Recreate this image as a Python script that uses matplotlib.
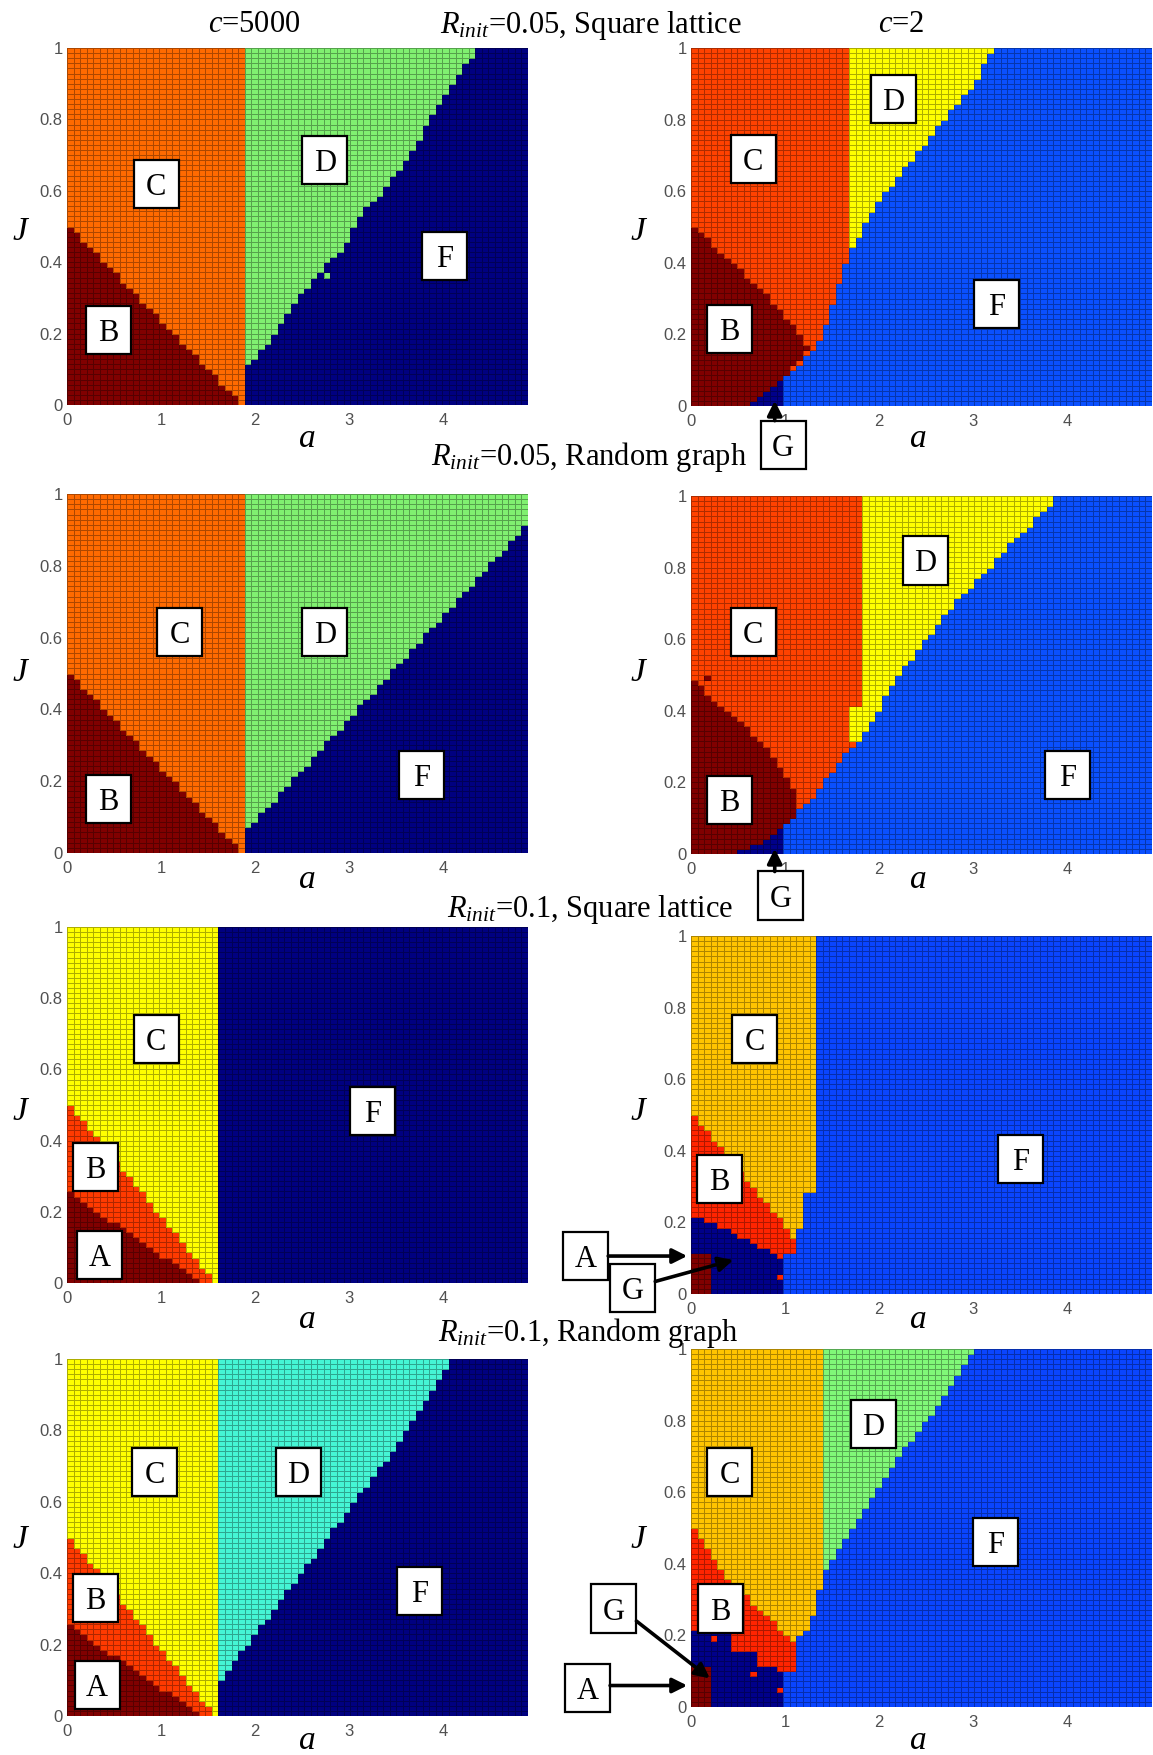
import matplotlib.pyplot as plt
import numpy as np
from matplotlib.path import Path
from matplotlib.colors import ListedColormap
from matplotlib.patches import Rectangle

plt.rcParams['font.family'] = 'Liberation Serif'
plt.rcParams['mathtext.fontset'] = 'custom'
plt.rcParams['mathtext.rm'] = 'Liberation Serif'
plt.rcParams['mathtext.it'] = 'Liberation Serif:italic'

W, H = 1153, 1755

# sweep grid: 70 x 70 cells, a = 0..4.9, J = 0..1
a_edges = np.linspace(0, 4.9, 71)
J_edges = np.linspace(0, 1, 71)

# ---- phase regions as (a, J) outlines ----
# R_init=0.05, square lattice, c=5000
sq05_big_C = [(0, 0), (0, 1), (1.9, 1), (1.9, 0)]
sq05_big_B = [(0, 0), (0, 0.51), (1.88, 0)]
sq05_big_D = [(1.9, 1), (4.4, 1), (4.24, 0.956), (3.97, 0.85), (3.7, 0.73), (3.4, 0.61),
              (3.13, 0.54), (2.94, 0.445), (2.45, 0.3), (2.22, 0.2), (1.9, 0.1)]
sq05_big_Ddots = [(2.75, 0.37), (3.35, 0.59)]

# R_init=0.05, square lattice, c=2
sq05_c2_C = [(0, 0), (0, 1), (1.7, 1), (1.7, 0.44), (1.62, 0.39), (1.47, 0.25), (1.35, 0.18),
             (1.2, 0.13), (1.0, 0.08), (1.0, 0)]
sq05_c2_B = [(0, 0), (0, 0.51), (0.85, 0.3), (1.2, 0.19), (1.25, 0.16), (1.0, 0.08), (1.0, 0)]
sq05_c2_G = [(0.6, 0), (1.0, 0.085), (1.0, 0)]
sq05_c2_D = [(1.7, 1), (3.2, 1), (3.03, 0.91), (2.56, 0.76), (2.0, 0.575), (1.7, 0.44)]

# R_init=0.05, random graph, c=5000
rg05_big_C = [(0, 0), (0, 1), (1.9, 1), (1.9, 0)]
rg05_big_B = [(0, 0), (0, 0.51), (1.88, 0)]
rg05_big_D = [(1.9, 1), (4.9, 1), (4.9, 0.92), (1.9, 0.06)]

# R_init=0.05, random graph, c=2
rg05_c2_C = [(0, 0), (0, 1), (1.8, 1), (1.8, 0.33), (1.6, 0.27), (1.47, 0.22), (1.31, 0.165),
             (1.2, 0.14), (1.0, 0.08), (1.0, 0)]
rg05_c2_D = [(1.7, 0.41), (1.8, 0.41), (1.8, 1), (3.9, 1), (3.42, 0.872), (2.75, 0.686),
             (2.21, 0.5), (1.8, 0.32), (1.7, 0.32)]
rg05_c2_B = [(0, 0), (0, 0.49), (0.38, 0.4), (0.77, 0.31), (1.0, 0.22), (1.12, 0.165),
             (1.16, 0.13), (1.0, 0.08), (1.0, 0)]
rg05_c2_Bdots = [(0.15, 0.5)]
rg05_c2_G = [(0.45, 0), (0.75, 0.03), (0.95, 0.07), (1.0, 0.085), (1.0, 0)]

# R_init=0.1, square lattice, c=5000
sq1_big_C = [(0, 0), (0, 1), (1.6, 1), (1.6, 0)]
sq1_big_B = [(0, 0), (0, 0.51), (1.58, 0)]
sq1_big_A = [(0, 0), (0, 0.26), (1.45, 0)]

# R_init=0.1, square lattice, c=2
sq1_c2_C = [(0, 0), (0, 1), (1.3, 1), (1.3, 0.29), (1.2, 0.29), (1.2, 0.185), (1.1, 0.185),
            (1.1, 0.12), (1.0, 0.12), (1.0, 0)]
sq1_c2_B = [(0, 0), (0, 0.51), (1.1, 0.158), (1.1, 0.12), (1.0, 0.12), (1.0, 0)]
sq1_c2_G = [(0, 0), (0, 0.225), (0.5, 0.165), (0.92, 0.11), (1.0, 0.1), (1.0, 0)]
sq1_c2_A = [(0, 0), (0, 0.12), (0.2, 0.12), (0.2, 0)]
sq1_c2_Bdots = [(0.95, 0.05)]

# R_init=0.1, random graph, c=5000
rg1_big_C = [(0, 0), (0, 1), (1.6, 1), (1.6, 0)]
rg1_big_D = [(1.6, 1), (4.1, 1), (3.62, 0.8), (2.91, 0.55), (1.6, 0.09)]
rg1_big_B = [(0, 0), (0, 0.51), (1.58, 0)]
rg1_big_A = [(0, 0), (0, 0.26), (1.45, 0)]

# R_init=0.1, random graph, c=2
rg1_c2_C = [(0, 0), (0, 1), (1.4, 1), (1.4, 0.37), (1.33, 0.28), (1.22, 0.214), (1.1, 0.187),
            (1.0, 0.18), (1.0, 0)]
rg1_c2_D = [(1.4, 1), (3.02, 1), (2.66, 0.85), (2.23, 0.71), (1.77, 0.52), (1.4, 0.37)]
rg1_c2_B = [(0, 0), (0, 0.51), (0.42, 0.345), (0.6, 0.31), (0.85, 0.243), (1.05, 0.187),
            (1.1, 0.187), (1.1, 0.1), (1.0, 0.1), (1.0, 0)]
rg1_c2_G = [(0, 0), (0, 0.22), (0.4, 0.22), (0.4, 0.15), (0.7, 0.15), (0.7, 0.12), (0.9, 0.12),
            (0.9, 0.1), (1.0, 0.1), (1.0, 0)]
rg1_c2_A = [(0, 0), (0, 0.12), (0.2, 0.12), (0.2, 0)]
rg1_c2_Bdots = [(0.25, 0.19), (0.65, 0.09), (0.95, 0.05)]

# colours of each phase (jet-like, as in the figure)
col_big05 = {'F': '#000080', 'C': '#FF6A00', 'B': '#800000', 'D': '#80F070'}
col_c2_05 = {'F': '#0A50FF', 'C': '#FF4200', 'B': '#800000', 'D': '#FFFF00', 'G': '#00008A'}
col_big1_sq = {'F': '#000080', 'C': '#FFFF00', 'B': '#FF3A00', 'A': '#800000'}
col_c2_1 = {'F': '#0A45FF', 'C': '#FFC400', 'B': '#FF2400', 'A': '#800000', 'D': '#80F878',
            'G': '#00008A'}
col_big1_rg = {'F': '#000080', 'C': '#FFFF00', 'B': '#FF3A00', 'A': '#800000', 'D': '#45F5D5'}


def phase_map(layers, dots=()):
    ac = (a_edges[:-1] + a_edges[1:]) / 2
    jc = (J_edges[:-1] + J_edges[1:]) / 2
    AA, JJ = np.meshgrid(ac, jc)
    pts = np.column_stack([AA.ravel(), JJ.ravel()])
    Z = np.full(AA.shape, 'F', dtype=object)
    for name, poly in layers:
        inside = Path(poly).contains_points(pts).reshape(AA.shape)
        Z[inside] = name
    for name, (a, J) in dots:
        Z[np.searchsorted(J_edges, J) - 1, np.searchsorted(a_edges, a) - 1] = name
    return Z


fig = plt.figure(figsize=(W / 100, H / 100), dpi=100)


def panel(x0, y0, x1, y1, layers, colors, dots=()):
    ax = fig.add_axes([x0 / W, 1 - y1 / H, (x1 - x0) / W, (y1 - y0) / H])
    Z = phase_map(layers, dots)
    names = list(colors)
    idx = np.vectorize(names.index)(Z)
    ax.pcolormesh(a_edges, J_edges, idx, cmap=ListedColormap([colors[n] for n in names]),
                  vmin=-0.5, vmax=len(names) - 0.5, edgecolors=(0, 0, 0, 0.32), linewidth=0.55)
    ax.set_xlim(0, 4.9)
    ax.set_ylim(0, 1)
    ax.set_xticks([0, 1, 2, 3, 4])
    ax.set_yticks([0, 0.2, 0.4, 0.6, 0.8, 1])
    ax.set_yticklabels(['0', '0.2', '0.4', '0.6', '0.8', '1'])
    ax.tick_params(length=0, labelsize=12, labelcolor='#505050', pad=3)
    for lab in ax.get_xticklabels() + ax.get_yticklabels():
        lab.set_family('Liberation Sans')
    ax.tick_params(axis='x', pad=6)
    for s in ax.spines.values():
        s.set_visible(False)
    return ax


def box(ax, s, a, J):
    w, h = 45 / 94, 48 / 357
    ax.add_patch(Rectangle((a - w / 2, J - h / 2), w, h, fc='white', ec='black', lw=1.6,
                           clip_on=False, zorder=5))
    ax.text(a, J, s, ha='center', va='center_baseline', fontsize=22, zorder=6, clip_on=False)


def arrow(ax, start, tip):
    ax.annotate('', xy=tip, xytext=start, annotation_clip=False, zorder=7,
                arrowprops=dict(arrowstyle='-|>', color='black', lw=2.6, mutation_scale=22,
                                shrinkA=0, shrinkB=0))


LX0, LX1 = 67, 528
RX0, RX1 = 691, 1152

ax = panel(LX0, 48, LX1, 405, [('C', sq05_big_C), ('B', sq05_big_B), ('D', sq05_big_D)],
           col_big05, [('D', p) for p in sq05_big_Ddots])
box(ax, 'C', 0.95, 0.62); box(ax, 'D', 2.74, 0.686); box(ax, 'F', 4.01, 0.417); box(ax, 'B', 0.44, 0.21)

ax = panel(RX0, 48, RX1, 406, [('C', sq05_c2_C), ('B', sq05_c2_B), ('G', sq05_c2_G), ('D', sq05_c2_D)],
           col_c2_05)
box(ax, 'C', 0.66, 0.69); box(ax, 'D', 2.15, 0.858); box(ax, 'F', 3.25, 0.285); box(ax, 'B', 0.41, 0.215)
box(ax, 'G', 0.98, -0.108)
arrow(ax, (0.89, -0.041), (0.89, 0.015))

ax = panel(LX0, 494, LX1, 853, [('C', rg05_big_C), ('B', rg05_big_B), ('D', rg05_big_D)], col_big05)
box(ax, 'C', 1.2, 0.615); box(ax, 'D', 2.74, 0.615); box(ax, 'F', 3.77, 0.218); box(ax, 'B', 0.44, 0.15)

ax = panel(RX0, 496, RX1, 854, [('C', rg05_c2_C), ('D', rg05_c2_D), ('B', rg05_c2_B), ('G', rg05_c2_G)],
           col_c2_05, [('B', p) for p in rg05_c2_Bdots])
box(ax, 'C', 0.66, 0.62); box(ax, 'D', 2.49, 0.82); box(ax, 'F', 4.0, 0.22); box(ax, 'B', 0.41, 0.15)
box(ax, 'G', 0.95, -0.116)
arrow(ax, (0.89, -0.049), (0.89, 0.015))

ax = panel(LX0, 927, LX1, 1283, [('C', sq1_big_C), ('B', sq1_big_B), ('A', sq1_big_A)], col_big1_sq)
box(ax, 'C', 0.95, 0.686); box(ax, 'F', 3.25, 0.483); box(ax, 'B', 0.3, 0.325); box(ax, 'A', 0.35, 0.078)

ax = panel(RX0, 936, RX1, 1294, [('C', sq1_c2_C), ('B', sq1_c2_B), ('G', sq1_c2_G), ('A', sq1_c2_A)],
           col_c2_1, [('B', p) for p in sq1_c2_Bdots])
box(ax, 'C', 0.68, 0.713); box(ax, 'F', 3.5, 0.378); box(ax, 'B', 0.3, 0.322)
box(ax, 'A', -1.12, 0.106); box(ax, 'G', -0.62, 0.017)
arrow(ax, (-0.88, 0.106), (-0.04, 0.106))
arrow(ax, (-0.38, 0.035), (0.45, 0.095))

ax = panel(LX0, 1359, LX1, 1716, [('C', rg1_big_C), ('D', rg1_big_D), ('B', rg1_big_B), ('A', rg1_big_A)],
           col_big1_rg)
box(ax, 'C', 0.93, 0.683); box(ax, 'D', 2.46, 0.683); box(ax, 'F', 3.75, 0.35); box(ax, 'B', 0.3, 0.33)
box(ax, 'A', 0.32, 0.088)

ax = panel(RX0, 1349, RX1, 1707, [('C', rg1_c2_C), ('D', rg1_c2_D), ('B', rg1_c2_B), ('G', rg1_c2_G),
                                  ('A', rg1_c2_A)], col_c2_1, [('B', p) for p in rg1_c2_Bdots])
box(ax, 'C', 0.41, 0.656); box(ax, 'D', 1.94, 0.79); box(ax, 'F', 3.24, 0.46); box(ax, 'B', 0.31, 0.275)
box(ax, 'G', -0.82, 0.275); box(ax, 'A', -1.1, 0.053)
arrow(ax, (-0.58, 0.24), (0.2, 0.08))
arrow(ax, (-0.86, 0.06), (-0.04, 0.06))

# titles and axis names
def ftext(x, y, s, size=22, **kw):
    fig.text(x / W, 1 - y / H, s, fontsize=size, ha='center', va='center', **kw)

ftext(254, 25, r'$c$=5000')
ftext(591, 25, r'$R_{init}$=0.05, Square lattice')
ftext(901, 25, r'$c$=2')
ftext(589, 457, r'$R_{init}$=0.05, Random graph')
ftext(590, 909, r'$R_{init}$=0.1, Square lattice')
ftext(588, 1333, r'$R_{init}$=0.1, Random graph')

for yj in [232, 673, 1112, 1540]:
    ftext(20, yj, 'J', size=24, style='italic')
    ftext(638, yj, 'J', size=24, style='italic')
for ya in [439, 880, 1320, 1741]:
    ftext(307, ya, 'a', size=24, style='italic')
    ftext(918, ya, 'a', size=24, style='italic')

fig.savefig('out.png', dpi=100)
